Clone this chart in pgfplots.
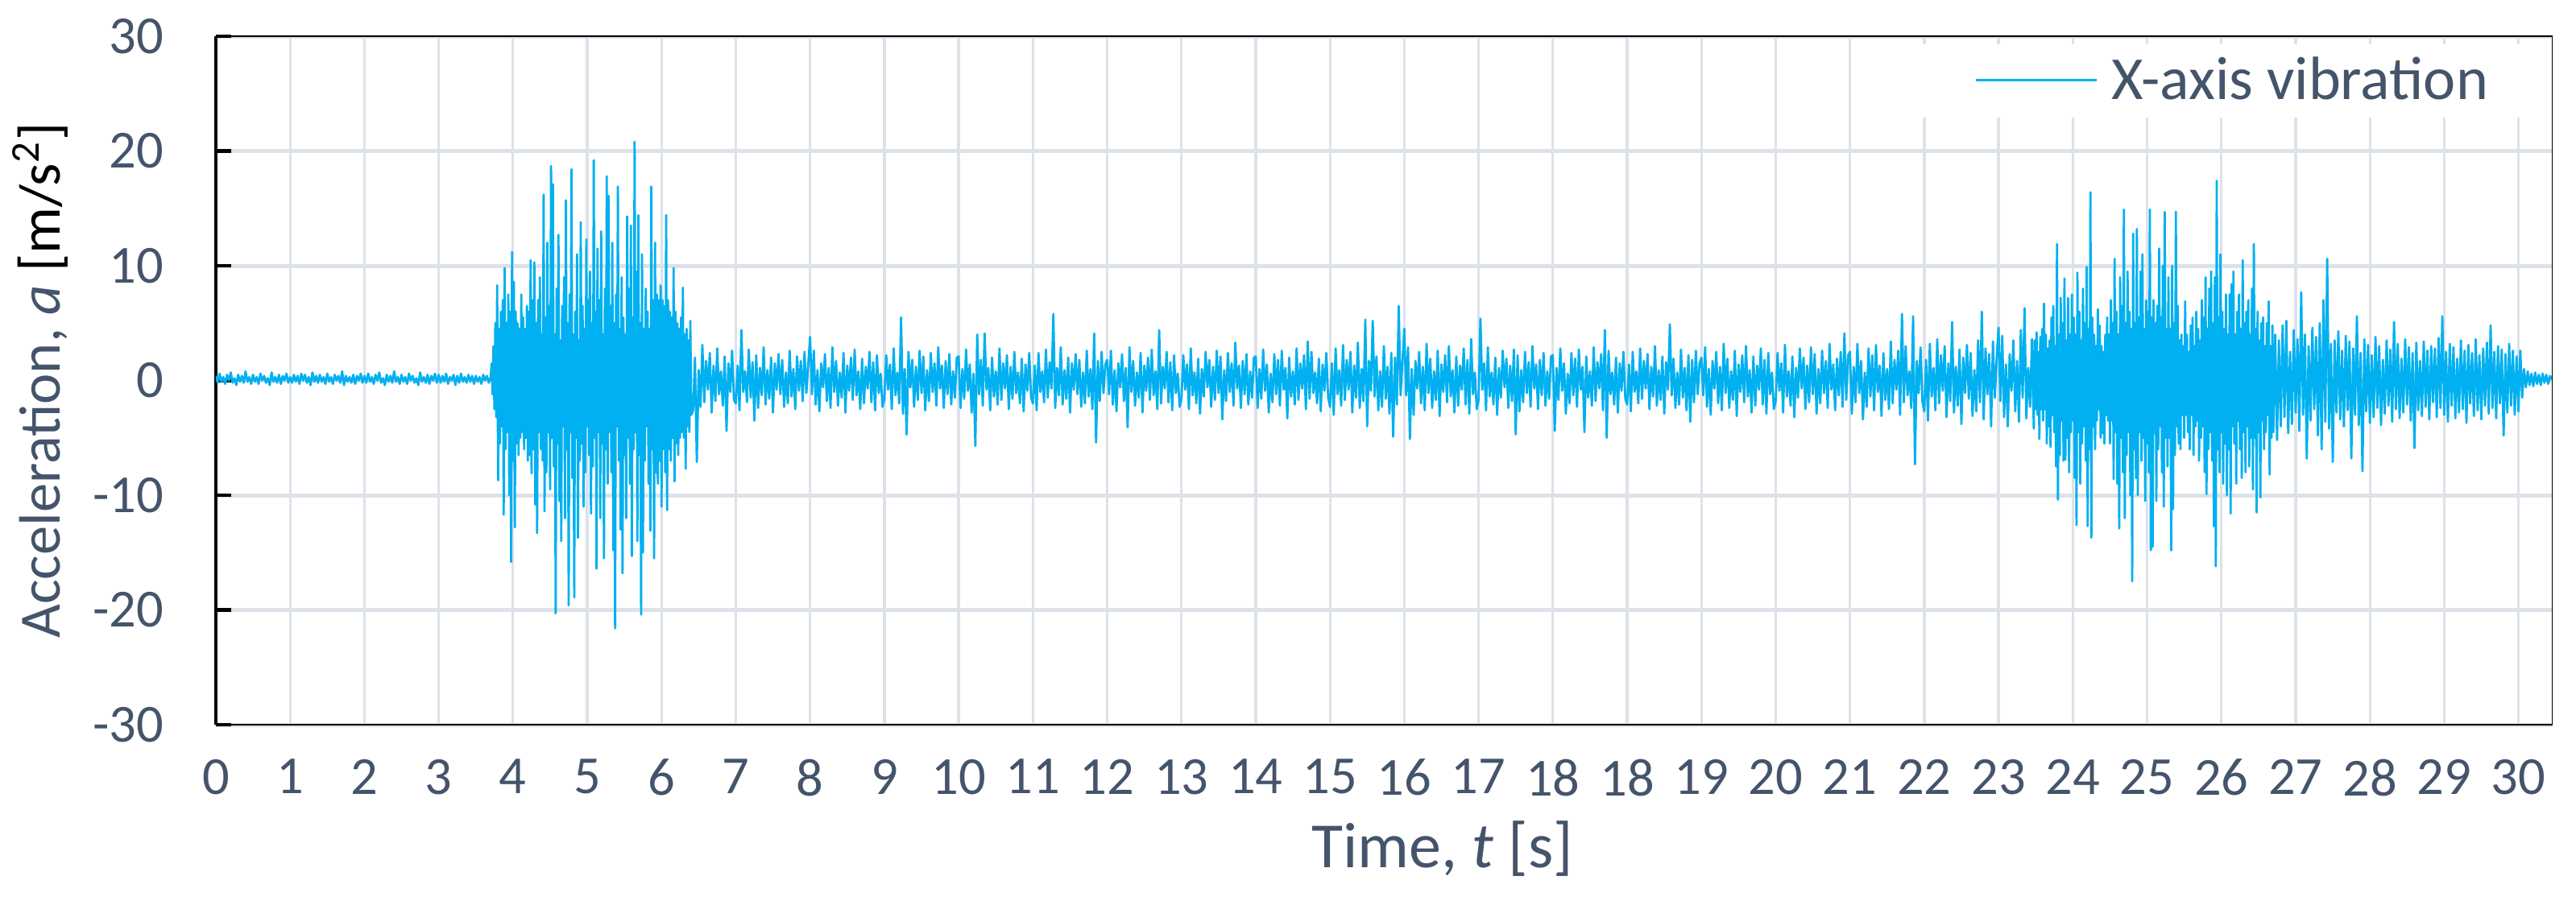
\documentclass[border=0pt]{standalone}
\usepackage{fontspec}
\setmainfont{Carlito}
\usepackage{pgfplots}
\pgfplotsset{compat=1.18}
\definecolor{txt}{RGB}{68,84,106}
\definecolor{sig}{RGB}{0,176,240}
\definecolor{grd}{RGB}{221,226,233}
\begin{document}
\begin{tikzpicture}
\useasboundingbox (0,0) rectangle (639.6pt,222.6pt);
\begin{axis}[
  name=ax,
  at={(53.6pt,42.6pt)}, anchor=south west,
  scale only axis, width=580.1pt, height=171pt,
  xmin=0, xmax=31.455, ymin=-30, ymax=30,
  axis x line=box, axis y line*=left,
  x axis line style={line width=0.26pt, black},
  y axis line style={line width=0.86pt, black},
  xtick={0,1,...,31},
  xticklabels={0,1,2,3,4,5,6,7,8,9,10,11,12,13,14,15,16,17,18,18,19,20,21,22,23,24,25,26,27,28,29,30},
  ytick={-30,-20,...,30},
  yticklabels={-30,-20,-10,0,10,20,30},
  ytick pos=left,
  tick align=inside,
  major tick length=3.8pt,
  xtick style={draw=none},
  ytick style={line width=0.86pt, black},
  xmajorgrids, ymajorgrids,
  major x grid style={line width=0.66pt, grd},
  major y grid style={line width=1pt, grd},
  xticklabel style={font=\fontsize{13.3}{16}\selectfont, text=txt, inner sep=0pt, anchor=north, yshift=-8.4pt},
  yticklabel style={font=\fontsize{13.3}{16}\selectfont, text=txt, inner sep=0pt, anchor=east, xshift=-12.8pt},
  xlabel={Time, \textit{t} [s]},
  ylabel={Acceleration, \textit{a} \textcolor{black}{[m/s\textsuperscript{2}]}},
  xlabel style={font=\fontsize{16}{19}\selectfont, text=txt, at={(axis description cs:0.525,0)}, anchor=base, yshift=-35.4pt},
  ylabel style={font=\fontsize{14.5}{17}\selectfont, text=txt, at={(axis description cs:-0.0752,0.5)}, anchor=center},
  legend style={draw=none, fill=white, at={(rel axis cs:0.9988,0.935)}, anchor=east,
    inner xsep=15pt, inner ysep=3pt, font=\fontsize{15.2}{18}\selectfont, text=txt,
    nodes={inner sep=0pt}},
  legend image code/.code={\draw[#1, line width=0.6pt] (0pt,0.3pt) -- (30pt,0.3pt);},
  /tikz/every odd column/.append style={column sep=3.4pt},
  clip=true,
]
\addplot[sig, line width=0.55pt, line join=round] coordinates {
(0,0.4) (0.025,-0.2) (0.05,0.6) (0.075,-0.1) (0.1,0.3) (0.125,-0.3) (0.15,0.5) (0.175,0.0) (0.2,0.7) (0.225,-0.2) (0.25,0.2) (0.275,-0.4) (0.3,0.5) (0.325,-0.1) (0.35,0.4) (0.375,-0.2) (0.4,0.8) (0.425,-0.1) (0.45,0.3) (0.475,-0.3)
(0.5,0.5) (0.525,-0.1) (0.55,0.3) (0.575,-0.3) (0.6,0.6) (0.625,0.0) (0.65,0.4) (0.675,-0.2) (0.7,0.2) (0.725,-0.4) (0.75,0.7) (0.775,-0.1) (0.8,0.3) (0.825,-0.2) (0.85,0.5) (0.875,-0.3) (0.9,0.4) (0.925,0.0) (0.95,0.6) (0.975,-0.2)
(1,0.3) (1.025,-0.2) (1.05,0.5) (1.075,-0.1) (1.1,0.4) (1.125,-0.3) (1.15,0.6) (1.175,0.0) (1.2,0.5) (1.225,-0.2) (1.25,0.3) (1.275,-0.4) (1.3,0.7) (1.325,-0.1) (1.35,0.4) (1.375,-0.2) (1.4,0.5) (1.425,-0.1) (1.45,0.3) (1.475,-0.3)
(1.5,0.6) (1.525,-0.1) (1.55,0.3) (1.575,-0.3) (1.6,0.5) (1.625,0.0) (1.65,0.4) (1.675,-0.2) (1.7,0.8) (1.725,-0.4) (1.75,0.4) (1.775,-0.1) (1.8,0.3) (1.825,-0.2) (1.85,0.5) (1.875,-0.3) (1.9,0.4) (1.925,0.0) (1.95,0.6) (1.975,-0.2)
(2,0.4) (2.025,-0.2) (2.05,0.6) (2.075,-0.1) (2.1,0.3) (2.125,-0.3) (2.15,0.5) (2.175,0.0) (2.2,0.7) (2.225,-0.2) (2.25,0.2) (2.275,-0.4) (2.3,0.5) (2.325,-0.1) (2.35,0.4) (2.375,-0.2) (2.4,0.8) (2.425,-0.1) (2.45,0.3) (2.475,-0.3)
(2.5,0.5) (2.525,-0.1) (2.55,0.3) (2.575,-0.3) (2.6,0.6) (2.625,0.0) (2.65,0.4) (2.675,-0.2) (2.7,0.2) (2.725,-0.4) (2.75,0.7) (2.775,-0.1) (2.8,0.3) (2.825,-0.2) (2.85,0.5) (2.875,-0.3) (2.9,0.4) (2.925,0.0) (2.95,0.6) (2.975,-0.2)
(3,0.5) (3.025,-0.2) (3.05,0.4) (3.075,-0.1) (3.1,0.6) (3.125,-0.3) (3.15,0.3) (3.175,0.0) (3.2,0.5) (3.225,-0.4) (3.25,0.4) (3.275,-0.2) (3.3,0.6) (3.325,-0.1) (3.35,0.3) (3.375,-0.2) (3.4,0.5) (3.425,-0.1) (3.45,0.4) (3.475,-0.3)
(3.5,0.4) (3.525,-0.1) (3.55,0.3) (3.575,-0.3) (3.6,0.5) (3.625,0.0) (3.65,0.4) (3.675,-0.2) (3.7,0.3)
(3.7125,1.5) (3.725,-1.2) (3.7375,3.0) (3.75,-2.5) (3.7625,5.0) (3.775,-3.2) (3.7875,8.3) (3.8,-8.7) (3.8125,4.5) (3.825,-5.5) (3.8375,6.0) (3.85,-4.0) (3.8625,7.0) (3.875,-11.7) (3.8875,9.8) (3.9,-6.0)
(3.9125,5.0) (3.925,-4.5) (3.9375,7.5) (3.95,-10.0) (3.9625,6.0) (3.975,-15.8) (3.9875,11.2) (4,-7.0) (4.0125,8.6) (4.025,-12.8) (4.0375,6.0) (4.05,-5.5) (4.0625,5.0) (4.075,-6.5) (4.0875,4.5) (4.1,-5.0)
(4.1125,7.5) (4.125,-4.5) (4.1375,5.5) (4.15,-6.0) (4.1625,4.5) (4.175,-5.0) (4.1875,6.5) (4.2,-7.0) (4.2125,6.0) (4.225,-6.5) (4.2375,10.5) (4.25,-8.1) (4.2625,7.0) (4.275,-6.0) (4.2875,10.3) (4.3,-10.8)
(4.3125,5.0) (4.325,-13.3) (4.3375,7.0) (4.35,-4.5) (4.3625,9.0) (4.375,-6.0) (4.3875,4.0) (4.4,-7.0) (4.4125,16.2) (4.425,-11.4) (4.4375,5.5) (4.45,-8.0) (4.4625,12.0) (4.475,-4.5) (4.4875,6.5) (4.5,-9.5)
(4.5125,18.7) (4.525,-5.0) (4.5375,17.1) (4.55,-7.5) (4.5625,4.0) (4.575,-20.3) (4.5875,8.0) (4.6,-5.5) (4.6125,12.7) (4.625,-10.5) (4.6375,3.5) (4.65,-14.0) (4.6625,6.5) (4.675,-4.0) (4.6875,9.0) (4.7,-12.0)
(4.7125,15.7) (4.725,-6.0) (4.7375,5.0) (4.75,-19.6) (4.7625,7.5) (4.775,-4.5) (4.7875,18.4) (4.8,-8.5) (4.8125,4.0) (4.825,-18.9) (4.8375,6.0) (4.85,-5.0) (4.8625,11.0) (4.875,-13.7) (4.8875,3.5) (4.9,-7.0)
(4.9125,13.8) (4.925,-5.5) (4.9375,6.5) (4.95,-11.0) (4.9625,4.5) (4.975,-8.0) (4.9875,12.3) (5,-4.0) (5.0125,7.0) (5.025,-6.5) (5.0375,9.5) (5.05,-11.6) (5.0625,5.0) (5.075,-7.5) (5.0875,19.2) (5.1,-5.0)
(5.1125,6.0) (5.125,-16.4) (5.1375,11.5) (5.15,-4.5) (5.1625,7.0) (5.175,-12.0) (5.1875,13.0) (5.2,-5.5) (5.2125,4.0) (5.225,-15.5) (5.2375,8.0) (5.25,-6.0) (5.2625,17.8) (5.275,-9.0) (5.2875,16.1) (5.3,-4.5)
(5.3125,6.5) (5.325,-8.0) (5.3375,12.0) (5.35,-14.8) (5.3625,5.0) (5.375,-21.6) (5.3875,7.5) (5.4,-4.0) (5.4125,16.9) (5.425,-7.0) (5.4375,4.5) (5.45,-13.0) (5.4625,9.0) (5.475,-16.8) (5.4875,5.5) (5.5,-6.5)
(5.5125,4.0) (5.525,-12.0) (5.5375,14.3) (5.55,-5.0) (5.5625,8.0) (5.575,-9.0) (5.5875,13.5) (5.6,-15.3) (5.6125,5.5) (5.625,-6.0) (5.6375,20.8) (5.65,-4.5) (5.6625,9.5) (5.675,-14.0) (5.6875,14.4) (5.7,-6.5)
(5.7125,5.0) (5.725,-20.4) (5.7375,11.0) (5.75,-15.0) (5.7625,4.5) (5.775,-7.0) (5.7875,8.0) (5.8,-4.0) (5.8125,6.0) (5.825,-9.0) (5.8375,4.5) (5.85,-13.1) (5.8625,16.9) (5.875,-6.0) (5.8875,7.0) (5.9,-15.5)
(5.9125,12.0) (5.925,-8.0) (5.9375,7.5) (5.95,-9.0) (5.9625,7.0) (5.975,-7.0) (5.9875,8.3) (6,-11.0) (6.0125,7.0) (6.025,-6.0) (6.0375,6.5) (6.05,-8.0) (6.0625,14.4) (6.075,-11.3) (6.0875,7.0) (6.1,-6.0)
(6.1125,6.0) (6.125,-7.0) (6.1375,5.5) (6.15,-5.0) (6.1625,9.8) (6.175,-8.8) (6.1875,6.0) (6.2,-5.5) (6.2125,5.0) (6.225,-6.5) (6.2375,4.5) (6.25,-5.0) (6.2625,5.5) (6.275,-4.5) (6.2875,8.1) (6.3,-5.0)
(6.3125,4.0) (6.325,-7.7) (6.3375,4.5) (6.35,-4.0) (6.3625,3.5) (6.375,-4.5) (6.3875,5.2) (6.4,-3.0)
(6.425,-2.6) (6.45,2.0) (6.475,-7.1) (6.5,0.9) (6.525,-2.3) (6.55,3.1) (6.575,-1.9) (6.6,1.7) (6.625,-0.8) (6.65,2.4) (6.675,-2.8) (6.7,1.3) (6.725,-1.8) (6.75,2.8) (6.775,-1.2) (6.8,0.8) (6.825,-2.2) (6.85,2.1) (6.875,-4.4) (6.9,1.5) (6.925,-1.0) (6.95,2.6) (6.975,-1.7)
(7,-2.0) (7.025,1.3) (7.05,-2.6) (7.075,4.4) (7.1,-1.0) (7.125,0.8) (7.15,-1.9) (7.175,2.7) (7.2,-1.5) (7.225,1.6) (7.25,-3.5) (7.275,2.2) (7.3,-2.4) (7.325,1.1) (7.35,-1.3) (7.375,2.9) (7.4,-2.1) (7.425,0.9) (7.45,-1.6) (7.475,2.0)
(7.5,-2.8) (7.525,1.5) (7.55,-0.8) (7.575,2.3) (7.6,-1.2) (7.625,1.8) (7.65,-2.3) (7.675,0.7) (7.7,-2.0) (7.725,2.6) (7.75,-1.4) (7.775,1.0) (7.8,-2.5) (7.825,2.1) (7.85,-0.9) (7.875,1.7) (7.9,-1.8) (7.925,2.5) (7.95,-1.1) (7.975,1.4)
(8,3.8) (8.025,-1.2) (8.05,2.6) (8.075,-2.1) (8.1,0.9) (8.125,-2.7) (8.15,1.5) (8.175,-0.6) (8.2,2.3) (8.225,-1.8) (8.25,1.1) (8.275,-2.4) (8.3,2.9) (8.325,-1.0) (8.35,1.7) (8.375,-2.2) (8.4,0.7) (8.425,-1.5) (8.45,2.4) (8.475,-2.8)
(8.5,1.3) (8.525,-0.9) (8.55,2.0) (8.575,-1.7) (8.6,2.7) (8.625,-1.3) (8.65,0.8) (8.675,-2.5) (8.7,1.9) (8.725,-2.0) (8.75,1.2) (8.775,-0.7) (8.8,2.5) (8.825,-1.9) (8.85,1.6) (8.875,-2.6) (8.9,2.2) (8.925,-1.1) (8.95,0.6) (8.975,-2.3)
(9,-1.6) (9.025,2.2) (9.05,-0.8) (9.075,1.4) (9.1,-2.5) (9.125,2.8) (9.15,-1.3) (9.175,0.7) (9.2,-2.0) (9.225,5.5) (9.25,-2.9) (9.275,1.0) (9.3,-4.7) (9.325,2.5) (9.35,-0.6) (9.375,1.8) (9.4,-2.3) (9.425,1.2) (9.45,-1.7) (9.475,2.6)
(9.5,-1.1) (9.525,2.1) (9.55,-2.6) (9.575,0.9) (9.6,-1.8) (9.625,2.4) (9.65,-1.0) (9.675,1.5) (9.7,-2.2) (9.725,2.9) (9.75,-0.7) (9.775,1.3) (9.8,-2.4) (9.825,1.7) (9.85,-1.2) (9.875,2.3) (9.9,-2.1) (9.925,0.8) (9.95,-1.5) (9.975,2.0)
(10,2.1) (10.025,-2.4) (10.05,1.0) (10.075,-1.6) (10.1,2.7) (10.125,-0.9) (10.15,1.4) (10.175,-2.8) (10.2,0.6) (10.225,-5.7) (10.25,4.0) (10.275,-1.2) (10.3,1.8) (10.325,-2.2) (10.35,4.1) (10.375,-0.8) (10.4,1.1) (10.425,-2.6) (10.45,2.0) (10.475,-1.4)
(10.5,0.8) (10.525,-2.1) (10.55,2.8) (10.575,-1.7) (10.6,1.5) (10.625,-0.7) (10.65,2.2) (10.675,-2.5) (10.7,1.2) (10.725,-1.6) (10.75,2.5) (10.775,-1.1) (10.8,0.7) (10.825,-2.0) (10.85,1.9) (10.875,-2.7) (10.9,1.4) (10.925,-0.9) (10.95,2.4) (10.975,-1.5)
(11,-2.0) (11.025,1.3) (11.05,-2.6) (11.075,2.4) (11.1,-1.0) (11.125,0.8) (11.15,-1.9) (11.175,2.7) (11.2,-1.5) (11.225,1.6) (11.25,-0.7) (11.275,5.8) (11.3,-2.4) (11.325,1.1) (11.35,-1.3) (11.375,2.9) (11.4,-2.1) (11.425,0.9) (11.45,-1.6) (11.475,2.0)
(11.5,-2.8) (11.525,1.5) (11.55,-0.8) (11.575,2.3) (11.6,-1.2) (11.625,1.8) (11.65,-2.3) (11.675,0.7) (11.7,-2.0) (11.725,2.6) (11.75,-1.4) (11.775,1.0) (11.8,-2.5) (11.825,4.1) (11.85,-5.4) (11.875,1.7) (11.9,-1.8) (11.925,2.5) (11.95,-1.1) (11.975,1.4)
(12,1.8) (12.025,-1.2) (12.05,2.6) (12.075,-2.1) (12.1,0.9) (12.125,-2.7) (12.15,1.5) (12.175,-0.6) (12.2,2.3) (12.225,-1.8) (12.25,1.1) (12.275,-4.1) (12.3,2.9) (12.325,-1.0) (12.35,1.7) (12.375,-2.2) (12.4,0.7) (12.425,-1.5) (12.45,2.4) (12.475,-2.8)
(12.5,1.3) (12.525,-0.9) (12.55,2.0) (12.575,-1.7) (12.6,2.7) (12.625,-1.3) (12.65,0.8) (12.675,-2.5) (12.7,4.4) (12.725,-2.0) (12.75,1.2) (12.775,-0.7) (12.8,2.5) (12.825,-1.9) (12.85,1.6) (12.875,-2.6) (12.9,2.2) (12.925,-1.1) (12.95,0.6) (12.975,-2.3)
(13,-1.6) (13.025,2.2) (13.05,-0.8) (13.075,1.4) (13.1,-2.5) (13.125,2.8) (13.15,-1.3) (13.175,0.7) (13.2,-2.0) (13.225,1.9) (13.25,-2.9) (13.275,1.0) (13.3,-1.4) (13.325,2.5) (13.35,-0.6) (13.375,1.8) (13.4,-2.3) (13.425,1.2) (13.45,-1.7) (13.475,2.6)
(13.5,-1.1) (13.525,2.1) (13.55,-3.4) (13.575,0.9) (13.6,-1.8) (13.625,2.4) (13.65,-1.0) (13.675,1.5) (13.7,-2.2) (13.725,3.3) (13.75,-0.7) (13.775,1.3) (13.8,-2.4) (13.825,1.7) (13.85,-1.2) (13.875,2.3) (13.9,-2.1) (13.925,0.8) (13.95,-1.5) (13.975,2.0)
(14,2.1) (14.025,-2.4) (14.05,1.0) (14.075,-1.6) (14.1,2.7) (14.125,-0.9) (14.15,1.4) (14.175,-2.8) (14.2,0.6) (14.225,-1.9) (14.25,2.3) (14.275,-1.2) (14.3,1.8) (14.325,-2.2) (14.35,2.6) (14.375,-0.8) (14.4,1.1) (14.425,-3.3) (14.45,2.0) (14.475,-1.4)
(14.5,0.8) (14.525,-2.1) (14.55,2.8) (14.575,-1.7) (14.6,1.5) (14.625,-0.7) (14.65,2.2) (14.675,-2.5) (14.7,3.4) (14.725,-1.6) (14.75,2.5) (14.775,-1.1) (14.8,0.7) (14.825,-2.0) (14.85,1.9) (14.875,-2.7) (14.9,1.4) (14.925,-0.9) (14.95,2.4) (14.975,-1.5)
(15,-2.3) (15.025,1.5) (15.05,-3.0) (15.075,2.8) (15.1,-1.2) (15.125,0.9) (15.15,-2.2) (15.175,3.1) (15.2,-1.7) (15.225,1.8) (15.25,-0.8) (15.275,2.5) (15.3,-2.8) (15.325,1.3) (15.35,-1.5) (15.375,3.3) (15.4,-2.4) (15.425,1.0) (15.45,-1.8) (15.475,5.3)
(15.5,-4.0) (15.525,1.7) (15.55,-0.9) (15.575,5.2) (15.6,-1.4) (15.625,2.1) (15.65,-2.6) (15.675,0.8) (15.7,-2.3) (15.725,3.0) (15.75,-1.6) (15.775,1.2) (15.8,-2.9) (15.825,2.4) (15.85,-4.9) (15.875,2.0) (15.9,-2.1) (15.925,6.5) (15.95,-1.3) (15.975,1.6)
(16,4.5) (16.025,-1.3) (16.05,2.9) (16.075,-5.1) (16.1,1.0) (16.125,-3.0) (16.15,1.7) (16.175,-0.7) (16.2,2.5) (16.225,-2.0) (16.25,1.2) (16.275,-2.6) (16.3,3.2) (16.325,-1.1) (16.35,1.9) (16.375,-2.4) (16.4,0.8) (16.425,-1.7) (16.45,2.6) (16.475,-3.1)
(16.5,1.4) (16.525,-1.0) (16.55,2.2) (16.575,-1.9) (16.6,3.0) (16.625,-1.4) (16.65,0.9) (16.675,-2.8) (16.7,2.1) (16.725,-2.2) (16.75,1.3) (16.775,-0.8) (16.8,2.8) (16.825,-2.1) (16.85,1.8) (16.875,-2.9) (16.9,3.6) (16.925,-1.2) (16.95,0.7) (16.975,-2.5)
(17,-1.7) (17.025,5.4) (17.05,-0.8) (17.075,1.5) (17.1,-2.6) (17.125,2.9) (17.15,-1.4) (17.175,0.7) (17.2,-2.1) (17.225,2.0) (17.25,-3.0) (17.275,1.1) (17.3,-1.5) (17.325,2.6) (17.35,-0.6) (17.375,1.9) (17.4,-2.4) (17.425,1.3) (17.45,-1.8) (17.475,2.7)
(17.5,-4.7) (17.525,2.2) (17.55,-2.7) (17.575,0.9) (17.6,-1.9) (17.625,2.5) (17.65,-1.1) (17.675,1.6) (17.7,-2.3) (17.725,3.0) (17.75,-0.7) (17.775,1.4) (17.8,-2.5) (17.825,1.8) (17.85,-1.3) (17.875,2.4) (17.9,-2.2) (17.925,0.8) (17.95,-1.6) (17.975,2.1)
(18,2.2) (18.025,-4.4) (18.05,1.1) (18.075,-1.7) (18.1,2.8) (18.125,-0.9) (18.15,1.5) (18.175,-2.9) (18.2,0.6) (18.225,-2.0) (18.25,2.4) (18.275,-1.3) (18.3,1.9) (18.325,-2.3) (18.35,2.7) (18.375,-0.8) (18.4,1.2) (18.425,-4.5) (18.45,2.1) (18.475,-1.5)
(18.5,0.8) (18.525,-2.2) (18.55,2.9) (18.575,-1.8) (18.6,1.6) (18.625,-0.7) (18.65,2.3) (18.675,-2.6) (18.7,4.4) (18.725,-5.0) (18.75,2.6) (18.775,-1.2) (18.8,0.7) (18.825,-2.1) (18.85,2.0) (18.875,-2.8) (18.9,1.5) (18.925,-0.9) (18.95,2.5) (18.975,-1.6)
(19,-2.1) (19.025,1.4) (19.05,-2.7) (19.075,2.5) (19.1,-1.0) (19.125,0.8) (19.15,-2.0) (19.175,2.8) (19.2,-1.6) (19.225,1.7) (19.25,-0.7) (19.275,2.3) (19.3,-2.5) (19.325,1.2) (19.35,-1.4) (19.375,3.0) (19.4,-2.2) (19.425,0.9) (19.45,-1.7) (19.475,2.1)
(19.5,-2.9) (19.525,1.6) (19.55,-0.8) (19.575,4.9) (19.6,-1.3) (19.625,1.9) (19.65,-2.4) (19.675,0.7) (19.7,-2.1) (19.725,2.7) (19.75,-1.5) (19.775,1.1) (19.8,-2.6) (19.825,2.2) (19.85,-3.6) (19.875,1.8) (19.9,-1.9) (19.925,2.6) (19.95,-1.2) (19.975,1.5)
(20,2.0) (20.025,-1.3) (20.05,2.9) (20.075,-2.3) (20.1,1.0) (20.125,-3.0) (20.15,1.7) (20.175,-0.7) (20.2,2.5) (20.225,-2.0) (20.25,1.2) (20.275,-2.6) (20.3,3.2) (20.325,-1.1) (20.35,1.9) (20.375,-2.4) (20.4,0.8) (20.425,-1.7) (20.45,2.6) (20.475,-3.1)
(20.5,1.4) (20.525,-1.0) (20.55,2.2) (20.575,-1.9) (20.6,3.0) (20.625,-1.4) (20.65,0.9) (20.675,-2.8) (20.7,2.1) (20.725,-2.2) (20.75,1.3) (20.775,-0.8) (20.8,2.8) (20.825,-2.1) (20.85,1.8) (20.875,-2.9) (20.9,2.4) (20.925,-1.2) (20.95,0.7) (20.975,-2.5)
(21,-1.8) (21.025,2.4) (21.05,-0.9) (21.075,1.5) (21.1,-2.8) (21.125,3.1) (21.15,-1.4) (21.175,0.8) (21.2,-2.2) (21.225,2.1) (21.25,-3.2) (21.275,1.1) (21.3,-1.5) (21.325,2.8) (21.35,-0.7) (21.375,2.0) (21.4,-2.5) (21.425,1.3) (21.45,-1.9) (21.475,2.9)
(21.5,-1.2) (21.525,2.3) (21.55,-2.9) (21.575,1.0) (21.6,-2.0) (21.625,2.6) (21.65,-1.1) (21.675,1.7) (21.7,-2.4) (21.725,3.2) (21.75,-0.8) (21.775,1.4) (21.8,-2.6) (21.825,1.9) (21.85,-1.3) (21.875,2.5) (21.9,-2.3) (21.925,4.1) (21.95,-1.7) (21.975,2.2)
(22,2.5) (22.025,-2.9) (22.05,1.2) (22.075,-1.9) (22.1,3.2) (22.125,-1.1) (22.15,1.7) (22.175,-3.4) (22.2,0.7) (22.225,-2.3) (22.25,2.8) (22.275,-1.4) (22.3,2.2) (22.325,-2.6) (22.35,3.1) (22.375,-1.0) (22.4,1.3) (22.425,-3.1) (22.45,2.4) (22.475,-1.7)
(22.5,1.0) (22.525,-2.5) (22.55,3.4) (22.575,-2.0) (22.6,1.8) (22.625,-0.8) (22.65,2.6) (22.675,-3.0) (22.7,5.8) (22.725,-1.9) (22.75,3.0) (22.775,-1.3) (22.8,0.8) (22.825,-2.4) (22.85,5.6) (22.875,-7.3) (22.9,1.7) (22.925,-1.1) (22.95,2.9) (22.975,-1.8)
(23,-2.7) (23.025,1.8) (23.05,-3.5) (23.075,3.2) (23.1,-1.4) (23.125,1.1) (23.15,-2.6) (23.175,3.6) (23.2,-2.0) (23.225,2.2) (23.25,-0.9) (23.275,3.0) (23.3,-3.2) (23.325,1.5) (23.35,-1.8) (23.375,5.1) (23.4,-2.8) (23.425,1.2) (23.45,-2.2) (23.475,2.7)
(23.5,-3.8) (23.525,2.0) (23.55,-1.1) (23.575,3.1) (23.6,-1.6) (23.625,2.4) (23.65,-3.1) (23.675,0.9) (23.7,-2.7) (23.725,3.5) (23.75,-1.9) (23.775,6.0) (23.8,-3.4) (23.825,2.8) (23.85,-1.2) (23.875,2.3) (23.9,-4.0) (23.925,3.4) (23.95,-1.5) (23.975,1.9)
(24,4.6) (24.025,-1.8) (24.05,3.9) (24.075,-3.2) (24.1,1.4) (24.125,-4.0) (24.15,2.3) (24.175,-0.9) (24.2,3.5) (24.225,-2.7) (24.25,1.7) (24.275,-3.6) (24.3,4.4) (24.325,-1.5) (24.35,6.3) (24.375,-3.3) (24.4,1.1) (24.425,-2.3) (24.45,3.6) (24.475,-4.2)
(24.4875,3.5) (24.5,-2.5) (24.5125,4.2) (24.525,-3.0) (24.5375,2.5) (24.55,-5.1) (24.5625,3.8) (24.575,-2.5) (24.5875,4.5) (24.6,-3.5) (24.6125,6.7) (24.625,-2.5) (24.6375,4.0) (24.65,-5.5) (24.6625,2.8) (24.675,-4.0)
(24.6875,3.5) (24.7,-5.8) (24.7125,5.5) (24.725,-3.0) (24.7375,6.5) (24.75,-4.5) (24.7625,3.0) (24.775,-7.5) (24.7875,11.9) (24.8,-10.4) (24.8125,4.0) (24.825,-6.5) (24.8375,7.2) (24.85,-3.5) (24.8625,5.0) (24.875,-7.0)
(24.8875,8.9) (24.9,-6.9) (24.9125,3.5) (24.925,-5.0) (24.9375,7.2) (24.95,-8.0) (24.9625,4.0) (24.975,-4.5) (24.9875,7.5) (25,-3.5) (25.0125,5.5) (25.025,-8.5) (25.0375,4.0) (25.05,-12.6) (25.0625,9.4) (25.075,-4.5)
(25.0875,6.0) (25.1,-9.0) (25.1125,3.5) (25.125,-5.5) (25.1375,8.0) (25.15,-4.0) (25.1625,5.0) (25.175,-7.0) (25.1875,9.9) (25.2,-12.7) (25.2125,4.5) (25.225,-6.0) (25.2375,16.4) (25.25,-13.7) (25.2625,5.5) (25.275,-4.0)
(25.2875,4.0) (25.3,-6.0) (25.3125,3.0) (25.325,-3.5) (25.3375,6.2) (25.35,-2.5) (25.3625,4.8) (25.375,-5.0) (25.3875,3.0) (25.4,-4.6) (25.4125,2.5) (25.425,-5.5) (25.4375,4.0) (25.45,-3.0) (25.4625,5.5) (25.475,-3.5)
(25.4875,4.0) (25.5,-5.5) (25.5125,7.0) (25.525,-3.5) (25.5375,5.0) (25.55,-8.6) (25.5625,10.6) (25.575,-4.5) (25.5875,6.0) (25.6,-9.0) (25.6125,4.0) (25.625,-12.9) (25.6375,9.0) (25.65,-5.0) (25.6625,6.5) (25.675,-8.0)
(25.6875,14.9) (25.7,-12.0) (25.7125,5.0) (25.725,-6.5) (25.7375,9.5) (25.75,-4.5) (25.7625,6.0) (25.775,-10.0) (25.7875,4.5) (25.8,-17.5) (25.8125,12.8) (25.825,-6.0) (25.8375,5.0) (25.85,-8.5) (25.8625,13.2) (25.875,-10.0)
(25.8875,5.5) (25.9,-4.5) (25.9125,9.5) (25.925,-7.0) (25.9375,11.0) (25.95,-5.0) (25.9625,4.5) (25.975,-10.5) (25.9875,7.0) (26,-5.5) (26.0125,6.0) (26.025,-8.0) (26.0375,14.9) (26.05,-14.8) (26.0625,5.5) (26.075,-14.5)
(26.0875,7.0) (26.1,-4.5) (26.1125,5.0) (26.125,-10.5) (26.1375,6.5) (26.15,-6.0) (26.1625,11.5) (26.175,-4.0) (26.1875,5.5) (26.2,-8.0) (26.2125,10.0) (26.225,-11.0) (26.2375,14.7) (26.25,-5.0) (26.2625,4.5) (26.275,-7.5)
(26.2875,9.0) (26.3,-5.0) (26.3125,4.5) (26.325,-14.8) (26.3375,10.0) (26.35,-11.2) (26.3625,5.0) (26.375,-6.5) (26.3875,14.7) (26.4,-4.0) (26.4125,6.5) (26.425,-5.5) (26.4375,3.5) (26.45,-6.0) (26.4625,4.0) (26.475,-3.0)
(26.4875,3.0) (26.5,-5.0) (26.5125,6.9) (26.525,-3.0) (26.5375,4.0) (26.55,-4.5) (26.5625,2.5) (26.575,-6.0) (26.5875,4.8) (26.6,-3.0) (26.6125,5.5) (26.625,-6.5) (26.6375,3.0) (26.65,-4.0) (26.6625,6.0) (26.675,-3.5)
(26.6875,4.5) (26.7,-7.0) (26.7125,3.5) (26.725,-5.0) (26.7375,7.0) (26.75,-4.0) (26.7625,5.5) (26.775,-8.0) (26.7875,9.0) (26.8,-9.9) (26.8125,4.5) (26.825,-6.0) (26.8375,8.0) (26.85,-4.5) (26.8625,9.5) (26.875,-7.0)
(26.8875,5.0) (26.9,-12.7) (26.9125,9.0) (26.925,-16.2) (26.9375,17.4) (26.95,-6.0) (26.9625,5.5) (26.975,-8.0) (26.9875,11.0) (27,-4.5) (27.0125,6.0) (27.025,-9.0) (27.0375,4.5) (27.05,-5.5) (27.0625,7.5) (27.075,-10.0)
(27.0875,4.0) (27.1,-6.0) (27.1125,7.5) (27.125,-11.6) (27.1375,8.4) (27.15,-4.0) (27.1625,9.5) (27.175,-5.5) (27.1875,4.0) (27.2,-9.0) (27.2125,6.0) (27.225,-3.5) (27.2375,7.5) (27.25,-6.0) (27.2625,4.5) (27.275,-8.5)
(27.2875,10.5) (27.3,-4.5) (27.3125,5.0) (27.325,-8.0) (27.3375,6.0) (27.35,-4.0) (27.3625,7.0) (27.375,-7.5) (27.3875,4.0) (27.4,-5.0) (27.4125,8.0) (27.425,-9.5) (27.4375,11.9) (27.45,-5.0) (27.4625,4.5) (27.475,-11.5)
(27.4875,6.0) (27.5,-4.5) (27.5125,3.5) (27.525,-10.2) (27.5375,5.0) (27.55,-3.5) (27.5625,5.5) (27.575,-6.0) (27.5875,3.0) (27.6,-4.5) (27.6125,5.0) (27.625,-3.0) (27.6375,6.9) (27.65,-8.2) (27.6625,3.0) (27.675,-5.0)
(27.6875,4.8) (27.7,-4.5)
(27.725,4.0) (27.75,-5.2) (27.775,3.5) (27.8,-4.0) (27.825,4.8) (27.85,-3.2) (27.875,5.2) (27.9,-4.6) (27.925,2.5) (27.95,-3.8) (27.975,4.4) (28,-2.8) (28.025,3.6) (28.05,-4.4) (28.075,7.7) (28.1,-3.0)
(28.125,4.0) (28.15,-6.8) (28.175,3.0) (28.2,-3.5) (28.225,4.6) (28.25,-2.5) (28.275,3.8) (28.3,-4.8) (28.325,5.0) (28.35,-6.0) (28.375,7.0) (28.4,-3.6) (28.425,10.6) (28.45,-4.2) (28.475,3.2) (28.5,-7.1)
(28.525,3.5) (28.55,-2.8) (28.575,4.3) (28.6,-3.4) (28.625,2.6) (28.65,-4.0) (28.675,3.9) (28.7,-2.6) (28.725,3.4) (28.75,-6.8) (28.775,2.8) (28.8,-3.0) (28.825,5.6) (28.85,-3.9) (28.875,2.4) (28.9,-7.9)
(28.925,3.6) (28.95,-2.7) (28.975,3.1) (29,-3.7) (29.025,2.2) (29.05,-3.2) (29.075,3.8) (29.1,-2.4) (29.125,3.0) (29.15,-3.9) (29.175,1.8) (29.2,-2.9) (29.225,3.5) (29.25,-2.2) (29.275,2.7) (29.3,-3.6)
(29.325,5.1) (29.35,-2.5) (29.375,3.2) (29.4,-3.3) (29.425,1.9) (29.45,-2.8) (29.475,3.6) (29.5,-2.1) (29.525,2.9) (29.55,-3.5) (29.575,2.4) (29.6,-5.9) (29.625,3.3) (29.65,-2.6) (29.675,1.7) (29.7,-3.1)
(29.725,3.4) (29.75,-2.3) (29.775,2.6) (29.8,-3.4) (29.825,3.0) (29.85,-1.9) (29.875,2.8) (29.9,-3.2) (29.925,3.7) (29.95,-2.4) (29.975,5.6) (30,-3.0) (30.025,2.5) (30.05,-3.6) (30.075,3.2) (30.1,-2.2)
(30.125,2.9) (30.15,-3.3) (30.175,1.9) (30.2,-2.8) (30.225,3.5) (30.25,-2.5) (30.275,2.6) (30.3,-3.7) (30.325,3.1) (30.35,-2.0) (30.375,2.4) (30.4,-3.1) (30.425,3.6) (30.45,-2.6) (30.475,2.2) (30.5,-3.4)
(30.525,2.8) (30.55,-2.2) (30.575,3.3) (30.6,-2.9) (30.625,4.8) (30.65,-2.4) (30.675,2.5) (30.7,-3.3) (30.725,3.0) (30.75,-2.0) (30.775,2.7) (30.8,-4.8) (30.825,2.3) (30.85,-2.8) (30.875,3.2) (30.9,-2.2)
(30.925,2.6) (30.95,-3.0) (30.975,2.1) (31,-2.7) (31.025,2.6) (31.05,-1.5)
(31.075,1.0) (31.1,-0.6) (31.125,0.8) (31.15,-0.4) (31.175,0.6) (31.2,-0.5) (31.225,0.7) (31.25,-0.3) (31.275,0.5) (31.3,-0.4) (31.325,0.6) (31.35,-0.2) (31.375,0.5) (31.4,-0.3) (31.425,0.4) (31.45,0.1)
};
\addlegendentry{X-axis vibration}
\end{axis}
\draw[line width=0.26pt, black] (ax.north west) -- (ax.north east) -- (ax.south east);
\end{tikzpicture}
\end{document}
